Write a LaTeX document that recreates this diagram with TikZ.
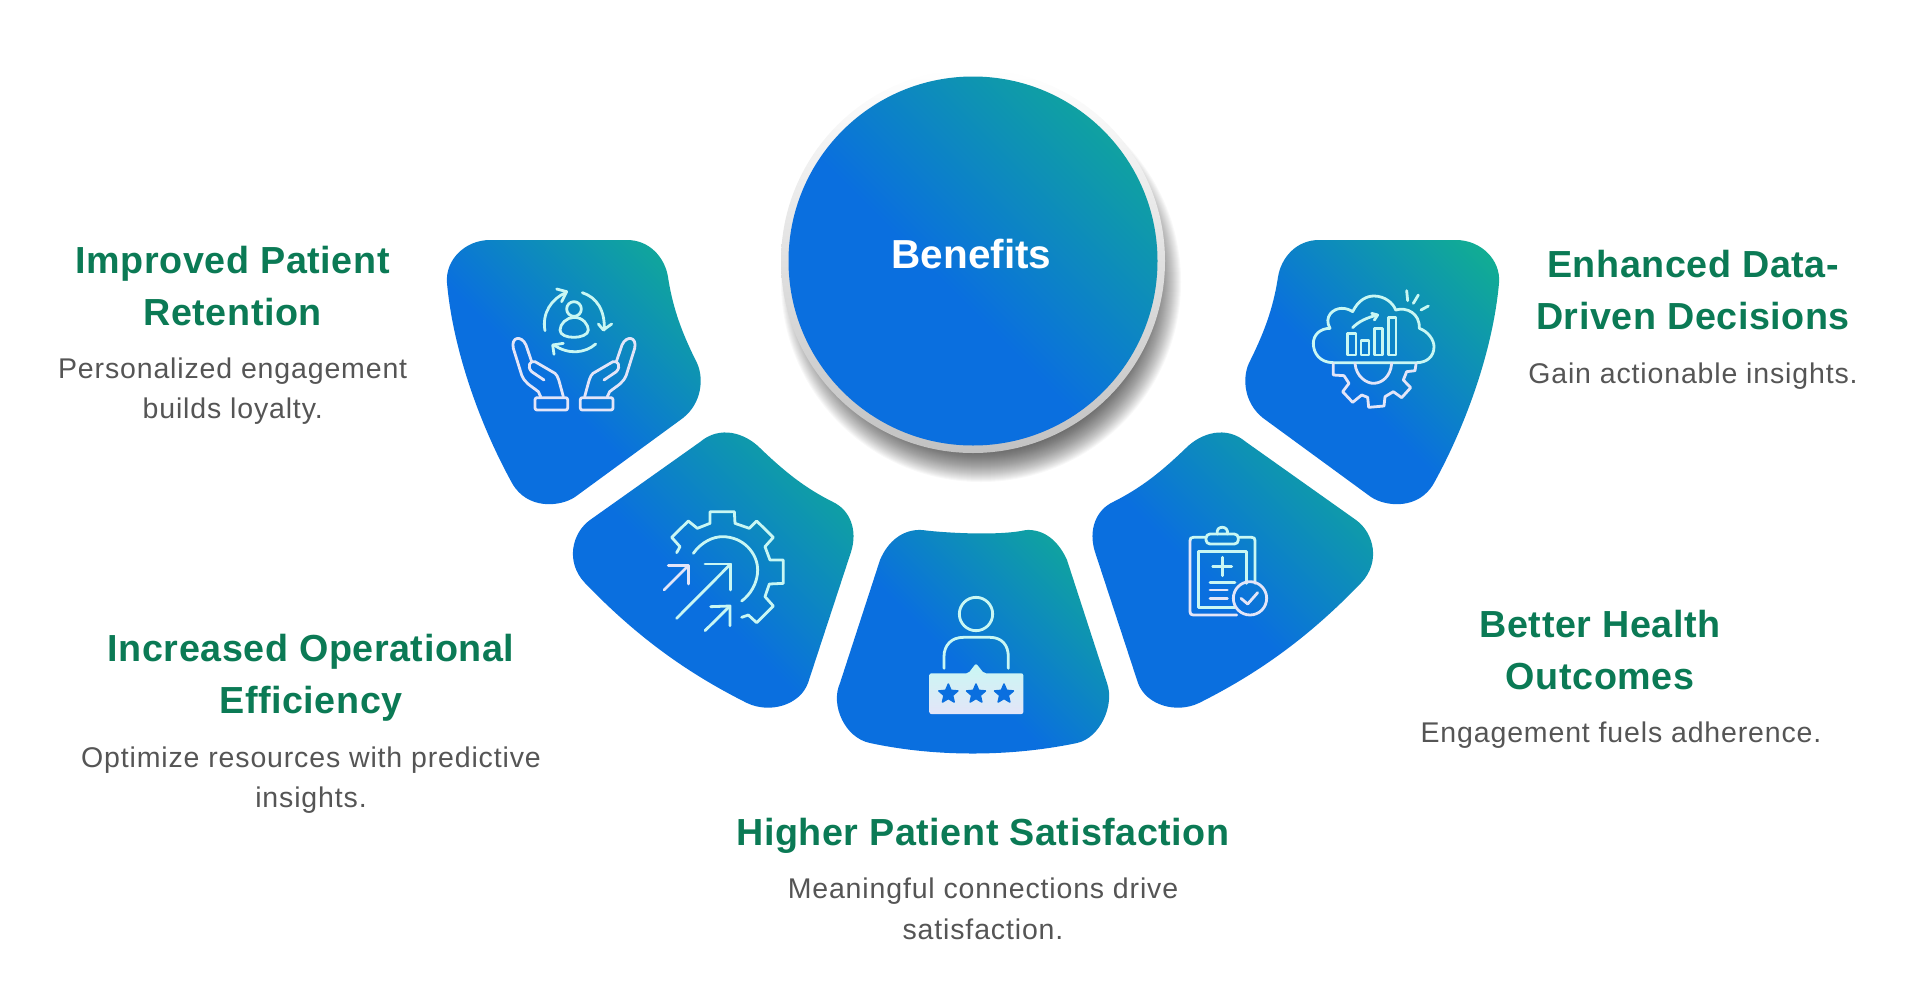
\documentclass[tikz,border=0pt]{standalone}
\usepackage{fontspec}
\setmainfont{Liberation Sans}
\newfontfamily\descfont[LetterSpace=3]{Liberation Sans}
\newfontfamily\headfont[LetterSpace=1.5]{Liberation Sans}
\usetikzlibrary{shapes.geometric}
\definecolor{petalblue}{HTML}{0A6FDF}
\definecolor{petalteal}{HTML}{11AD93}
\definecolor{headgreen}{HTML}{0B7A55}
\definecolor{descgray}{HTML}{555555}
\definecolor{icontop}{HTML}{C9F7F3}
\definecolor{iconlow}{HTML}{E3E5F8}
\pgfdeclarehorizontalshading{petalgrad}{100bp}{color(0bp)=(petalblue); color(45bp)=(petalblue); color(82bp)=(petalteal); color(100bp)=(petalteal)}
\tikzset{
	petal/.style={shading=petalgrad, shading angle=45},
	icon/.style={line width=2.8pt, line cap=round, line join=round, draw=icontop},
	iconb/.style={icon, draw=iconlow},
	headtext/.style={text=headgreen, align=center, font=\headfont\bfseries\fontsize{37.7}{52}\selectfont},
	desctext/.style={text=descgray, align=center, font=\descfont\fontsize{28.5}{40.5}\selectfont},
	starmark/.style={star, star points=5, star point ratio=2.2, minimum size=20pt, inner sep=0pt, fill=petalblue, draw=petalblue, line width=1.5pt, line join=round},
}
\begin{document}
\begin{tikzpicture}[x=1pt, y=-1pt, line join=round, line cap=round]
	\useasboundingbox (0,0) rectangle (1920,994);
	% central circle
	\foreach \r in {166,...,200}
		\fill[black, opacity=0.028] (981,282) circle (\r);
	\shade[top color=white, bottom color=black!24] (973,261) circle (192);
	\node[circle, minimum size=369pt, inner sep=0pt, shade, petal] (hub) at (973,261) {};
	\node[text=white, font=\bfseries\fontsize{40.5}{50}\selectfont, inner sep=0pt] (hubtext) at (971.5,254) {Benefits};
	% petals
	\shade[petal] (490,240) -- (627,240) .. controls (650,240) and (665,258) .. (668,277) .. controls (673,310) and (683,335) .. (697,363) .. controls (704,378) and (702,403) .. (683,418) -- (575,497) .. controls (560,507) and (527,510) .. (512,483) .. controls (480,425) and (453,350) .. (447,283) .. controls (445,260) and (465,240) .. (490,240) -- cycle;
	\shade[petal] (700,442) -- (590,520) .. controls (572,533) and (565,562) .. (585,583) .. controls (635,635) and (685,672) .. (747,703) .. controls (770,714) and (800,705) .. (808,683) -- (851,552) .. controls (858,530) and (850,510) .. (833,502) .. controls (805,488) and (785,472) .. (760,448) .. controls (745,433) and (720,425) .. (700,442) -- cycle;
	\shade[petal] (922,530) .. controls (945,533) and (1000,536) .. (1026,530) .. controls (1045,529) and (1059,542) .. (1067,560) -- (1107,683) .. controls (1115,705) and (1100,738) .. (1077,743) .. controls (1010,757) and (935,757) .. (870,743) .. controls (845,738) and (830,705) .. (840,683) -- (880,560) .. controls (888,541) and (903,529) .. (922,530) -- cycle;
	\shade[petal] (1246,442) -- (1356,520) .. controls (1374,533) and (1381,562) .. (1361,583) .. controls (1311,635) and (1261,672) .. (1199,703) .. controls (1176,714) and (1146,705) .. (1138,683) -- (1095,552) .. controls (1088,530) and (1096,510) .. (1113,502) .. controls (1141,488) and (1161,472) .. (1186,448) .. controls (1201,433) and (1226,425) .. (1246,442) -- cycle;
	\shade[petal] (1456,240) -- (1319,240) .. controls (1296,240) and (1281,258) .. (1278,277) .. controls (1273,310) and (1263,335) .. (1249,363) .. controls (1242,378) and (1244,403) .. (1263,418) -- (1371,497) .. controls (1386,507) and (1419,510) .. (1434,483) .. controls (1466,425) and (1493,350) .. (1499,283) .. controls (1501,260) and (1481,240) .. (1456,240) -- cycle;
	% icon: hands
	\begin{scope}[shift={(420,220)}, scale=1/3]
		\draw[icon] (462,267) circle (22);
		\draw[icon] (462,292) .. controls (490,292) and (505,315) .. (505,330) .. controls (505,345) and (480,352) .. (462,352) .. controls (440,352) and (420,345) .. (420,330) .. controls (420,312) and (440,292) .. (462,292) -- cycle;
		\draw[icon] (375,332) .. controls (365,280) and (395,235) .. (438,218);
		\draw[icon] (410,207) -- (440,215) -- (425,245);
		\draw[icon] (487,218) .. controls (530,232) and (555,270) .. (553,330);
		\draw[icon] (535,312) -- (550,330) -- (575,312);
		\draw[icon] (527,372) .. controls (495,400) and (445,405) .. (402,375);
		\draw[icon] (402,403) -- (398,375) -- (430,370);
		\foreach \s/\o in {1/0,-1/924} {
			\begin{scope}[shift={(\o,0)}, xscale=\s]
				\draw[iconb, rounded corners=2pt] (345,533) rectangle (443,570);
				\draw[iconb] (362,530) -- (355,515) .. controls (330,495) and (315,490) .. (305,465) -- (280,385) .. controls (272,350) and (305,345) .. (318,375) -- (335,425);
				\draw[iconb] (372,480) -- (335,455) .. controls (320,440) and (330,420) .. (345,425) -- (405,460) .. controls (415,470) and (415,475) .. (430,530);
			\end{scope}
		}
	\end{scope}
	% icon: gear and arrows
	\begin{scope}[shift={(560,420)}, scale=1/3]
		\draw[icon] (350,398) -- (360,380) -- (335,352) -- (385,303) -- (412,325) -- (450,310) -- (450,275) -- (523,275) -- (525,310) -- (568,325) -- (590,303) -- (640,352) -- (615,380) -- (630,420) -- (670,420) -- (670,490) -- (628,492) -- (615,530) -- (640,558) -- (590,608) -- (565,585) -- (545,592);
		\draw[icon] (400,400) .. controls (425,365) and (460,350) .. (487,350) .. controls (550,350) and (593,400) .. (593,450) .. controls (593,490) and (570,525) .. (545,543);
		\draw[icon] (350,595) -- (512,432);
		\draw[icon] (435,432) -- (512,432) -- (512,510);
		\draw[iconb] (312,510) -- (385,437);
		\draw[iconb] (325,437) -- (385,437) -- (385,492);
		\draw[icon] (435,632) -- (510,558);
		\draw[icon] (452,560) -- (510,558) -- (510,617);
	\end{scope}
	% icon: person and rating
	\begin{scope}[shift={(820,510)}, scale=1/3]
		\draw[icon] (468,312) circle (50);
		\draw[icon] (372,475) -- (372,440) .. controls (372,405) and (395,382) .. (430,382) -- (510,382) .. controls (545,382) and (565,405) .. (565,440) -- (565,475);
		\shade[top color=icontop, bottom color=iconlow, rounded corners=2pt] (328,490) -- (445,490) -- (468,460) -- (492,490) -- (610,490) -- (610,612) -- (328,612) -- cycle;
		\foreach \i/\sx in {1/385,2/468,3/552}
			\node[starmark] (star\i) at (\sx,552) {};
	\end{scope}
	% icon: clipboard
	\begin{scope}[shift={(1080,420)}, scale=1/3]
		\draw[icon] (378,352) -- (340,352) .. controls (333,352) and (330,355) .. (330,362);
		\draw[iconb] (330,362) -- (330,575) .. controls (330,582) and (333,585) .. (340,585) -- (470,585);
		\draw[icon] (475,352) -- (515,352) .. controls (522,352) and (525,355) .. (525,362) -- (525,490);
		\draw[icon, rounded corners=4pt] (378,342) rectangle (475,372);
		\draw[icon] (412,342) .. controls (405,315) and (448,315) .. (442,342);
		\draw[icon] (500,490) -- (500,395) -- (355,395) -- (355,562) -- (465,562);
		\draw[icon] (398,440) -- (455,440);
		\draw[icon] (427,412) -- (427,467);
		\draw[icon] (390,487) -- (465,487);
		\draw[iconb] (390,510) -- (442,510);
		\draw[iconb] (390,535) -- (442,535);
		\draw[iconb] (510,535) circle (50);
		\draw[iconb] (483,535) -- (503,552) -- (533,518);
	\end{scope}
	% icon: cloud and gear
	\begin{scope}[shift={(1230,220)}, scale=1/3]
		\draw[icon] (310,428) .. controls (270,428) and (250,400) .. (250,370) .. controls (250,345) and (270,325) .. (300,325) .. controls (280,290) and (310,265) .. (335,265) .. controls (350,265) and (360,270) .. (368,275) .. controls (385,240) and (410,228) .. (432,228) .. controls (465,228) and (490,250) .. (497,270) .. controls (530,260) and (570,280) .. (568,325) .. controls (595,335) and (612,360) .. (612,380) .. controls (612,410) and (590,428) .. (560,428) -- cycle;
		\draw[icon] (353,340) rectangle (378,405);
		\draw[icon] (393,362) rectangle (417,405);
		\draw[icon] (433,325) rectangle (458,405);
		\draw[icon] (475,292) rectangle (498,405);
		\draw[icon] (368,323) .. controls (385,305) and (410,293) .. (442,285);
		\draw[icon] (425,280) -- (443,285) -- (433,300);
		\draw[icon] (530,212) -- (533,242);
		\draw[icon] (565,225) -- (550,250);
		\draw[icon] (595,258) -- (573,270);
		\draw[iconb] (310,430) -- (310,465) -- (342,467) -- (357,490) -- (338,515) -- (368,547) -- (395,525) -- (413,532) -- (416,562) -- (462,558) -- (465,530) -- (490,515) -- (515,533) -- (542,503) -- (520,480) -- (530,455) -- (555,452) -- (558,432);
		\draw[iconb] (375,430) .. controls (378,470) and (410,490) .. (430,490) .. controls (455,490) and (482,470) .. (485,430);
	\end{scope}
	% texts
	\node[headtext] (retention) at (232.7,286.5) {Improved Patient\\Retention};
	\node[desctext] (retentiondesc) at (232.7,391) {Personalized engagement\\builds loyalty.};
	\node[headtext] (efficiency) at (311,678) {Increased Operational\\Efficiency};
	\node[desctext] (efficiencydesc) at (311,780) {Optimize resources with predictive\\insights.};
	\node[headtext] (satisfaction) at (983,836) {Higher Patient Satisfaction};
	\node[desctext] (satisfactiondesc) at (983,909) {Meaningful connections drive\\satisfaction.};
	\node[headtext] (outcomes) at (1600,650) {Better Health\\Outcomes};
	\node[desctext] (outcomesdesc) at (1621,735) {Engagement fuels adherence.};
	\node[headtext] (decisions) at (1693,290.5) {Enhanced Data-\\Driven Decisions};
	\node[desctext] (decisionsdesc) at (1693,376) {Gain actionable insights.};
\end{tikzpicture}
\end{document}
